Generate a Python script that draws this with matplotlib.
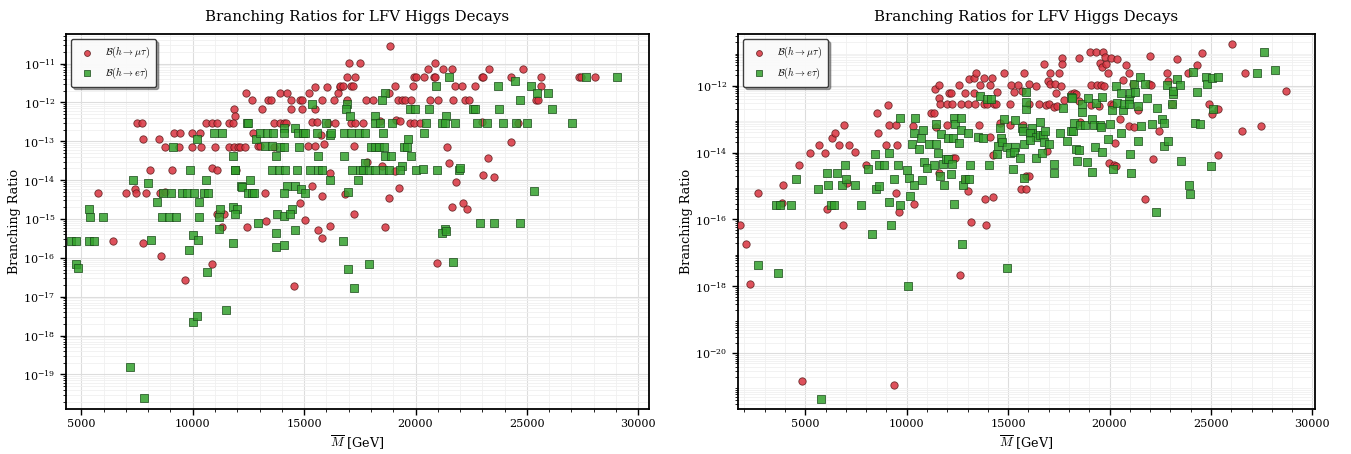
import matplotlib
matplotlib.use("Agg")
import matplotlib.pyplot as plt
from matplotlib.ticker import MultipleLocator, LogLocator, NullFormatter
import numpy as np

# ---- left panel: M-bar [GeV] and log10(BR) ----
left_mutau_M = [
    12400, 12650, 13100, 13370, 13510, 13900, 14220, 14420, 14820, 14910, 14420, 14910,
    15200, 15490, 15790, 16020, 16320, 16590, 11830, 11910, 7500, 7720, 7770, 8480,
    9170, 9440, 8750, 9370, 9960, 10340, 9960, 10370, 10590, 10860, 11080, 11010,
    11620, 11790, 11610, 11830, 12010, 12100, 12360, 12700, 12910, 13030, 13630, 13930,
    14110, 14190, 13660, 15170, 15490, 15350, 15570, 15490, 16090, 16390, 15910, 15760,
    10860, 11080, 8090, 9070, 11940, 16170, 15350, 15790, 14820, 5750, 6990, 7420,
    7470, 7920, 8540, 8770, 13250, 11080, 11380,
    18860, 17020, 17520, 20890, 20550, 21250, 21630, 23320, 24810,
    16920, 17290, 19940, 20030, 20360, 20810, 20880, 22970, 23050, 24290, 25630, 27350,
    27410, 28050, 16620, 16740, 17100, 17190, 19090, 19880, 21780, 22080, 22670, 25630,
    16540, 18790, 16920, 17780, 18080, 19230, 19380, 19530, 19800, 20660, 21030, 21660,
    22200, 22420, 25410, 25510, 17100, 17290, 17620, 18410, 19120, 19310, 19760, 19910,
    20180, 22970, 24620, 17220, 21400, 24290, 17810, 18490, 19060, 21480, 23270, 23020,
    23500, 21810, 19260, 16840, 18790, 21630, 22110, 22300, 17220,
    6410, 7770, 8560, 9660, 10860, 11310, 12430, 13300, 14540, 15020, 15610, 15810,
    16170, 18610, 20950]
left_mutau_logBR = [
    -11.75, -11.94, -12.17, -11.94, -11.94, -11.75, -11.75, -11.94, -11.94, -11.94, -12.17, -12.17,
    -11.75, -11.60, -11.94, -11.60, -11.94, -11.60, -12.17, -12.35, -12.53, -12.53, -12.95, -12.95,
    -12.79, -12.79, -13.14, -13.14, -12.79, -12.79, -13.14, -13.14, -12.53, -12.53, -12.53, -13.14,
    -12.53, -12.53, -13.14, -13.14, -13.14, -13.14, -13.14, -12.79, -13.12, -13.12, -12.53, -12.53,
    -12.53, -12.53, -13.14, -13.12, -13.12, -12.50, -12.50, -12.17, -12.53, -12.53, -13.07, -12.85,
    -13.68, -13.73, -13.73, -13.73, -13.73, -13.81, -14.14, -14.41, -14.59, -14.33, -14.33, -14.24,
    -14.33, -14.33, -14.33, -14.31, -14.33, -14.87, -14.87,
    -10.55, -10.98, -10.98, -10.98, -11.15, -11.15, -11.15, -11.15, -11.15,
    -11.34, -11.34, -11.34, -11.34, -11.34, -11.34, -11.34, -11.34, -11.34, -11.34, -11.34, -11.34,
    -11.34, -11.34, -11.59, -11.59, -11.59, -11.59, -11.59, -11.59, -11.59, -11.59, -11.59, -11.59,
    -11.75, -11.75, -11.94, -11.94, -11.94, -11.94, -11.94, -11.94, -11.94, -11.94, -11.94, -11.94,
    -11.94, -11.94, -11.94, -11.94, -12.53, -12.53, -12.53, -12.47, -12.45, -12.47, -12.53, -12.53,
    -12.53, -12.50, -12.53, -13.12, -13.15, -13.03, -13.53, -13.64, -13.76, -13.55, -13.43, -13.87,
    -13.93, -14.06, -14.20, -14.37, -14.46, -14.68, -14.60, -14.75, -14.87,
    -15.56, -15.62, -15.96, -16.57, -16.16, -15.20, -15.20, -15.05, -16.72, -15.03, -15.28, -15.50,
    -15.18, -15.20, -16.14]

left_etau_M = [
    5330, 5400, 5970, 7320, 7990, 8390, 8650, 8620, 8920, 9260, 9020, 9510,
    9740, 10040, 10520, 10670, 9860, 10290, 10290, 10590, 10190, 9110, 10940, 11300,
    11230, 11160, 11790, 11880, 11910, 11790, 11980, 11880, 12160, 12210, 12500, 12650,
    12730, 12580, 12430, 12500, 12850, 13030, 13330, 13600, 13250, 13550, 13720, 13550,
    13850, 13930, 14080, 14080, 14110, 14150, 14250, 14110, 14610, 14720, 14930, 15050,
    14750, 14670, 14610, 14850, 15030, 14460, 13780, 14080, 14370, 15350, 15570, 15640,
    15270, 15640, 15790, 15990, 16170, 16170,
    21510, 27640, 29030, 24470, 20920, 23720, 25180, 18610, 25470, 25960, 18490, 24690,
    16940, 16870, 19760, 19980, 20610, 22570, 22670, 23750, 26110, 17070, 18160, 21390,
    18190, 18410, 18960, 20460, 21180, 21330, 21750, 22750, 23200, 23910, 24510, 24990,
    27040, 16220, 16770, 17100, 17440, 17740, 18560, 20400, 19680, 17990, 18190, 18340,
    18590, 19490, 19610, 16800, 18640, 18890, 19800, 17740, 19400, 17170, 17520, 17640,
    17920, 18160, 18560, 18830, 19310, 20030, 20330, 20950, 21930, 22000, 17400, 16990,
    25330, 22900, 23530, 24690, 21330,
    4540, 4760, 5330, 5550, 4760, 4840, 8120, 9990, 10220, 9810, 10640, 11200,
    11790, 12920, 13720, 13720, 14080, 14600, 10010, 10200, 11490, 7200, 7830, 16740,
    16950, 17220, 17930, 21180, 21360, 21660]
left_etau_logBR = [
    -14.75, -14.95, -14.95, -14.00, -14.08, -14.57, -14.33, -14.95, -14.95, -14.95, -14.33, -14.33,
    -14.33, -14.33, -14.33, -14.33, -13.73, -14.57, -14.95, -14.00, -12.95, -13.14, -12.79, -12.79,
    -14.75, -14.95, -13.39, -13.73, -13.73, -14.68, -14.75, -14.87, -14.14, -14.17, -14.33, -14.33,
    -14.33, -14.00, -12.53, -12.53, -12.95, -12.79, -12.79, -12.79, -13.13, -13.13, -13.39, -13.73,
    -13.73, -13.14, -13.14, -12.67, -12.79, -13.73, -14.14, -14.33, -12.67, -12.79, -12.79, -12.79,
    -13.14, -13.73, -14.14, -14.24, -14.33, -14.75, -14.87, -14.92, -14.87, -12.05, -12.79, -13.39,
    -13.73, -13.73, -13.73, -12.53, -12.85, -14.00,
    -11.34, -11.34, -11.34, -11.46, -11.59, -11.59, -11.59, -11.75, -11.75, -11.75, -11.94, -11.94,
    -12.05, -12.18, -12.18, -12.18, -12.18, -12.18, -12.18, -12.18, -12.18, -12.35, -12.35, -12.35,
    -12.53, -12.53, -12.53, -12.53, -12.53, -12.53, -12.53, -12.53, -12.53, -12.53, -12.53, -12.53,
    -12.53, -12.79, -12.79, -12.79, -12.79, -12.79, -12.79, -12.79, -12.95, -13.14, -13.14, -13.14,
    -13.14, -13.14, -13.14, -13.39, -13.39, -13.39, -13.39, -13.55, -13.63, -13.73, -13.73, -13.73,
    -13.73, -13.73, -13.73, -13.73, -13.73, -13.73, -13.72, -13.73, -13.73, -13.68, -14.00, -14.30,
    -14.28, -15.10, -15.10, -15.10, -15.27,
    -15.56, -15.56, -15.56, -15.56, -16.16, -16.27, -15.53, -15.40, -15.54, -15.80, -16.36, -15.27,
    -15.61, -15.10, -15.35, -15.71, -15.67, -15.28, -17.64, -17.49, -17.34, -18.80, -19.60, -15.56,
    -16.30, -16.78, -16.16, -15.35, -15.30, -16.10]

# ---- right panel ----
right_mutau_M = [
    2650, 3900, 3850, 4690, 5220, 5690, 5970, 6300, 6460, 6650, 6920, 7140,
    7470, 7060, 6050, 8010, 8530, 8580, 8980, 9080, 9140, 9490, 9450, 9500,
    9620, 10290, 10380, 11200, 11370, 11440, 11380, 11570, 11590, 11660, 11990, 12070,
    12200, 11990, 11590, 12270, 12360, 12230, 12560, 12690, 12870, 13020, 12850, 13020,
    13070, 13300, 13430, 13300, 13350, 13580, 13820, 13630, 13790, 13960, 14290, 14400,
    14200, 14090, 14450, 14120, 14270, 14610, 13880, 14250, 14780, 15070, 15110,
    15790, 16750, 17680, 17680, 17070, 17530, 18500, 19050, 19310, 19700, 19540, 19650,
    19840, 19770, 20070, 20380, 19920, 20800, 20940, 22000, 23350, 22830, 23890, 24320,
    24570, 26050, 26690, 28710, 15150, 15480, 16010, 16370, 16960, 17070, 17290, 17600,
    15270, 15680, 17350, 16010, 16530, 16880, 17040, 17240, 17420, 17770, 18110, 18260,
    18360, 18500, 19080, 19380, 19590, 19750, 19080, 19470, 20080, 20150, 20660, 21180,
    21970, 22040, 21380, 22880, 23100, 24880, 25040, 25340, 18550, 20520, 20940, 21210,
    22460, 15710, 16910, 15890, 16020, 15640, 15870, 19980, 20230, 20310, 20280, 22130,
    21740, 25340, 26520, 27490,
    1765, 2060, 2290, 4850, 6840, 9355, 12610, 13180, 13920]
right_mutau_logBR = [
    -15.21, -14.98, -15.52, -14.37, -14.02, -13.77, -14.01, -13.56, -13.42, -13.77, -13.17, -13.77,
    -13.98, -14.91, -15.69, -14.37, -12.82, -13.43, -13.77, -12.58, -13.17, -13.17, -15.21, -13.77,
    -15.79, -13.20, -15.55, -12.82, -12.82, -13.23, -12.09, -11.97, -12.38, -12.56, -12.56, -12.22,
    -12.22, -13.17, -14.60, -14.17, -14.17, -12.54, -11.97, -12.56, -12.22, -12.56, -14.78, -15.15,
    -11.80, -11.77, -11.61, -12.22, -12.56, -13.17, -11.77, -11.97, -12.56, -12.56, -12.56, -12.56,
    -11.76, -11.97, -12.19, -13.53, -14.06, -13.11, -15.40, -15.32, -11.61, -12.56, -13.18,
    -11.61, -11.37, -11.19, -11.37, -11.61, -11.61, -11.18, -11.01, -11.01, -10.99, -11.34, -11.44,
    -11.36, -11.16, -11.17, -11.22, -11.61, -11.39, -11.61, -11.13, -11.20, -11.61, -11.62, -11.40,
    -11.04, -10.77, -11.62, -12.17, -11.97, -11.97, -11.94, -12.00, -11.87, -11.94, -11.94, -12.01,
    -12.19, -12.16, -12.22, -12.56, -12.56, -12.57, -12.56, -12.64, -12.62, -12.42, -12.24, -12.21,
    -12.24, -12.47, -11.97, -11.97, -11.97, -12.02, -12.59, -12.62, -12.56, -12.58, -11.84, -11.94,
    -11.96, -11.99, -12.74, -11.87, -12.56, -12.56, -12.84, -12.69, -13.08, -13.00, -13.20, -13.25,
    -13.35, -13.19, -13.95, -14.70, -14.70, -15.08, -15.08, -14.31, -14.38, -14.40, -13.71, -14.19,
    -15.39, -14.07, -13.37, -13.21,
    -16.17, -16.74, -17.92, -20.82, -16.17, -20.94, -17.67, -16.07, -16.17]

right_etau_M = [
    3570, 3770, 4300, 4540, 5610, 6090, 6550, 6100, 6830, 6280, 6430, 6960,
    7010, 7440, 7730, 8070, 8420, 8500, 8620, 8650, 8900, 9140, 9120, 9390,
    9590, 9650, 9670, 10010, 10110, 10160, 10280, 10360, 10360, 10420, 10590, 10700,
    10750, 10790, 10870, 11000, 11120, 11360, 11430, 11440, 11540, 11620, 11690, 11790,
    11820, 11920, 12020, 12020, 12200, 12250, 12260, 12310, 12350, 12380, 12560, 12680,
    12690, 12760, 12850, 13020, 13050, 13140, 13500, 13630, 13740, 13960, 14150, 14070,
    14470, 14480, 14610, 14780, 14660, 14690, 14940, 15110,
    15350, 15890, 15860, 15890, 15680, 15730, 16170, 16200, 16060, 16550, 16380, 16550,
    16700, 16830, 16780, 17030, 15320, 15300, 15760, 16090, 15600, 16370, 16660, 15230,
    15790, 17270, 17270, 17730, 17580, 17900, 18090, 18140, 18260, 18110, 18190, 18360,
    18500, 18390, 18640, 18640, 18550, 18800, 18910, 18960, 19130, 19160, 19260, 19240,
    19540, 19570, 19340, 19620, 19650, 19900, 20030, 20130, 20150, 20340, 20360, 20560,
    20570, 20660, 20690, 20940, 20970, 20990, 21000, 21070, 21230, 21260, 21380, 21380,
    21480, 21540, 21760, 21860, 22070, 22330, 22610, 22710, 22710, 22860, 22830, 23120,
    23150, 23090, 23320, 23450, 23500, 23910, 23960, 22280, 24110, 24290, 24220, 24470,
    24750, 24800, 25040, 25340, 25080, 25000, 27290, 27640, 28180,
    2685, 3670, 5775, 8290, 9225, 10080, 12710, 14940]
right_etau_logBR = [
    -15.57, -15.57, -15.57, -14.78, -15.09, -14.62, -14.62, -14.98, -14.98, -15.57, -15.57, -14.37,
    -14.78, -14.96, -15.57, -14.48, -14.03, -15.08, -14.99, -14.37, -14.37, -14.01, -15.48, -14.80,
    -14.37, -15.57, -12.98, -14.52, -14.76, -15.30, -13.76, -13.43, -14.98, -12.98, -13.88, -13.56,
    -14.83, -13.32, -14.28, -14.45, -13.76, -14.37, -13.75, -13.16, -14.01, -14.71, -13.45, -14.33,
    -14.96, -14.18, -14.18, -13.57, -14.63, -14.35, -13.57, -12.98, -15.54, -13.16, -13.71, -12.98,
    -13.33, -14.96, -14.78, -13.43, -14.78, -14.37, -13.53, -12.31, -13.56, -12.39, -12.39, -14.37,
    -14.03, -13.81, -13.28, -12.99, -13.56, -13.68, -13.83, -14.00,
    -13.04, -12.19, -12.69, -12.49, -13.28, -13.36, -13.28, -13.41, -13.43, -13.09, -13.53, -13.49,
    -13.47, -13.35, -13.68, -13.75, -13.83, -13.98, -13.76, -13.63, -14.16, -14.16, -14.02, -14.48,
    -14.76, -14.35, -14.60, -12.66, -13.41, -13.66, -12.34, -12.36, -13.13, -13.36, -13.36, -13.88,
    -13.92, -14.26, -12.56, -12.79, -13.18, -13.18, -14.27, -12.38, -13.00, -14.57, -13.84, -13.18,
    -13.18, -13.25, -12.52, -13.98, -12.34, -13.59, -13.15, -12.72, -14.48, -12.00, -12.52, -12.23,
    -13.43, -12.74, -12.56, -12.39, -12.54, -12.22, -14.04, -14.62, -11.94, -12.20, -12.62, -13.67,
    -11.74, -13.21, -11.94, -12.37, -13.14, -12.66, -13.00, -13.13, -13.81, -13.67, -11.97, -12.24,
    -12.16, -12.54, -11.80, -11.97, -14.25, -14.98, -15.23, -15.77, -11.59, -12.20, -13.11, -13.15,
    -11.74, -11.94, -11.76, -11.73, -12.71, -14.40, -11.61, -10.99, -11.55,
    -17.36, -17.61, -21.37, -16.42, -16.15, -17.99, -16.74, -17.46]

plt.rcParams['font.family'] = 'serif'
plt.rcParams['font.serif'] = ['DejaVu Serif']
plt.rcParams['mathtext.fontset'] = 'cm'

RED = '#d9333f'
GREEN = '#33a02c'


def draw_panel(ax, mu_M, mu_log, e_M, e_log, xlim, ylim_log):
    ax.scatter(mu_M, 10.0 ** np.array(mu_log), s=28, marker='o', color=RED,
               alpha=0.85, edgecolors='#5a1a1a', linewidths=0.6,
               label=r'$\mathcal{B}(h \to \mu\tau)$', zorder=3)
    ax.scatter(e_M, 10.0 ** np.array(e_log), s=26, marker='s', color=GREEN,
               alpha=0.85, edgecolors='#1a4a1a', linewidths=0.6,
               label=r'$\mathcal{B}(h \to e\tau)$', zorder=3)
    ax.set_yscale('log')
    ax.set_xlim(*xlim)
    ax.set_ylim(10.0 ** ylim_log[0], 10.0 ** ylim_log[1])
    ax.xaxis.set_major_locator(MultipleLocator(5000))
    ax.xaxis.set_minor_locator(MultipleLocator(1000))
    ax.yaxis.set_minor_locator(LogLocator(base=10, subs=np.arange(2, 10), numticks=50))
    ax.yaxis.set_minor_formatter(NullFormatter())
    ax.grid(True, which='major', color='#dddddd', linewidth=0.8, zorder=0)
    ax.grid(True, which='minor', color='#f0f0f0', linewidth=0.6, zorder=0)
    ax.set_axisbelow(True)
    for sp in ax.spines.values():
        sp.set_linewidth(1.3)
        sp.set_color('black')
    ax.tick_params(which='major', labelsize=8, length=4, width=1)
    ax.tick_params(which='minor', length=2, width=0.6)
    ax.set_xlabel(r'$\overline{M}$ [GeV]', fontsize=9.2, labelpad=3)
    ax.set_ylabel('Branching Ratio', fontsize=9.2, labelpad=2)
    ax.set_title('Branching Ratios for LFV Higgs Decays', fontsize=10.8, pad=9)
    leg = ax.legend(loc='upper left', fontsize=7.2, frameon=True, shadow=True,
                    fancybox=True, framealpha=0.95, borderpad=0.6,
                    labelspacing=0.5, markerscale=0.8)
    leg.get_frame().set_edgecolor('#333333')
    leg.get_frame().set_linewidth(1.0)


fig = plt.figure(figsize=(13.51, 4.54), dpi=100)
ax1 = fig.add_axes([66 / 1351, 45 / 454, 583 / 1351, 375 / 454])
ax2 = fig.add_axes([738 / 1351, 45 / 454, 577 / 1351, 375 / 454])

draw_panel(ax1, left_mutau_M, left_mutau_logBR, left_etau_M, left_etau_logBR,
           (4310, 30480), (-19.89, -10.24))
draw_panel(ax2, right_mutau_M, right_mutau_logBR, right_etau_M, right_etau_logBR,
           (1683, 30130), (-21.66, -10.46))

fig.savefig('out.png', dpi=100)
